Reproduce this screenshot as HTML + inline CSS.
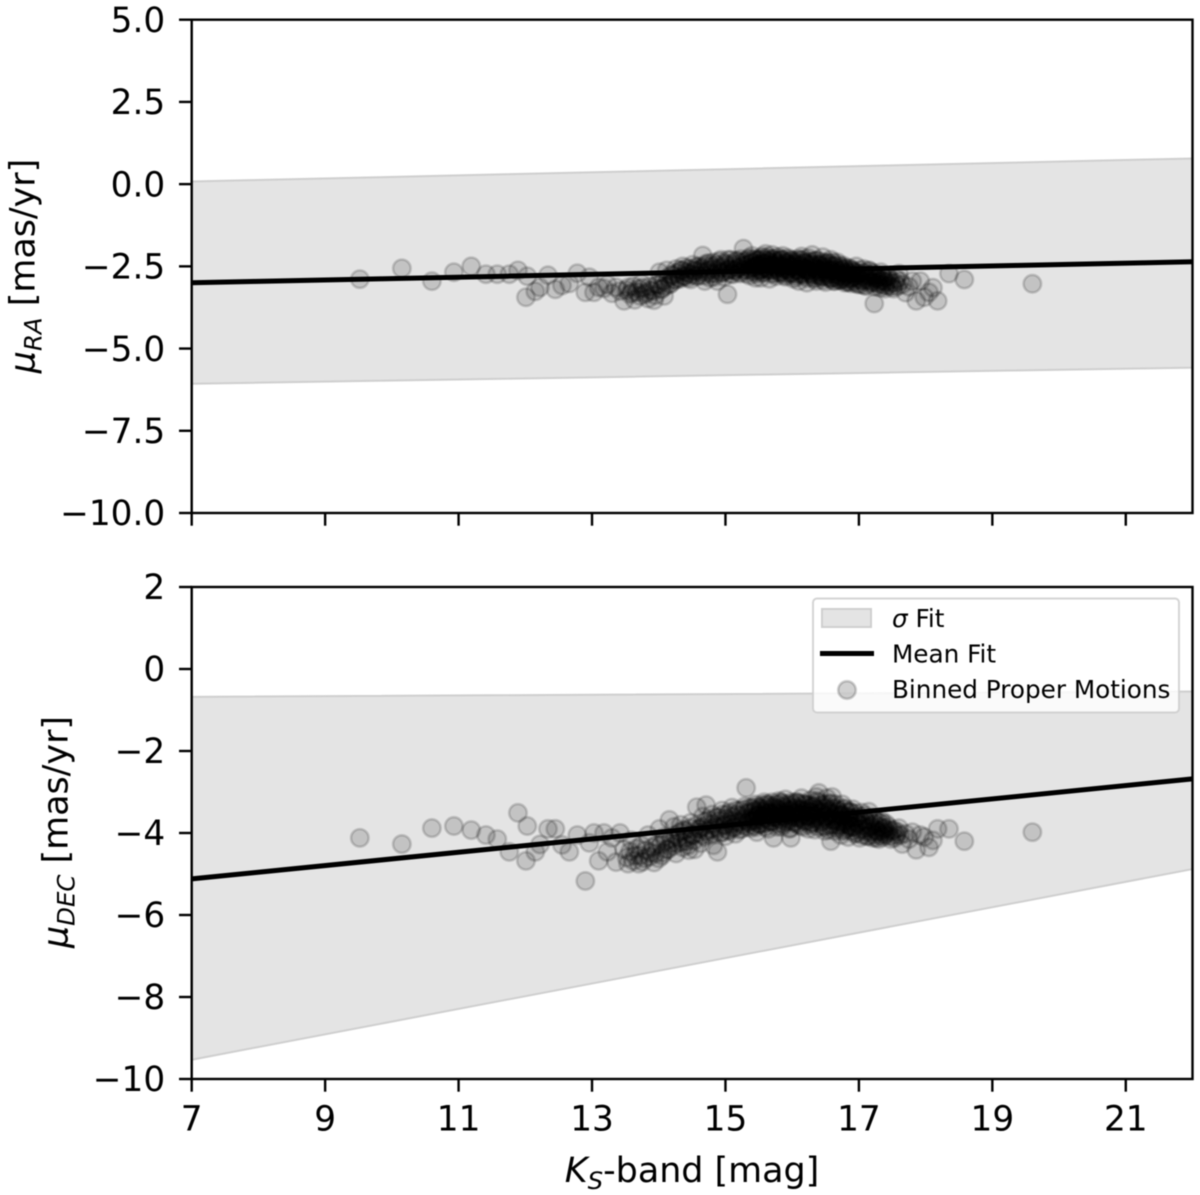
<!DOCTYPE html>
<html>
<head>
<meta charset="utf-8">
<title>Proper motion vs Ks-band</title>
<style>
html,body{margin:0;padding:0;background:#fff;width:1200px;height:1195px;overflow:hidden}
svg{display:block;filter:blur(0.55px)}
text{font-family:"DejaVu Sans","Liberation Sans",sans-serif;fill:#000}
.tick{font-size:34.3px}
.axis{font-size:34.9px}
.leg{font-size:24.7px}
</style>
</head>
<body>
<svg id="chart" xmlns="http://www.w3.org/2000/svg" width="1200" height="1195" viewBox="0 0 1200 1195">
<g id="top-marks"></g>
<g id="bottom-marks"></g>
<g id="frames"></g>
<text class="axis" x="692" y="1182" text-anchor="middle"><tspan font-style="italic">K</tspan><tspan font-style="italic" font-size="24.4" dy="7">S</tspan><tspan dy="-7">-band [mag]</tspan></text>
<text class="axis" transform="translate(34.5,266) rotate(-90)" text-anchor="middle"><tspan font-style="italic">μ</tspan><tspan font-style="italic" font-size="24.4" dy="7">RA</tspan><tspan dy="-7"> [mas/yr]</tspan></text>
<text class="axis" transform="translate(67.5,832) rotate(-90)" text-anchor="middle"><tspan font-style="italic">μ</tspan><tspan font-style="italic" font-size="24.4" dy="7">DEC</tspan><tspan dy="-7"> [mas/yr]</tspan></text>
<g>
<rect x="813" y="598.5" width="366" height="114" rx="4" ry="4" fill="#fff" fill-opacity="0.8" stroke="#ccc" stroke-opacity="0.85" stroke-width="2"/>
<rect x="822" y="609" width="49" height="18" fill="#e4e4e4" stroke="#cfcfcf" stroke-width="2"/>
<text class="leg" x="892" y="627"><tspan font-style="italic">σ</tspan> Fit</text>
<line x1="820" x2="874" y1="653.5" y2="653.5" stroke="#000" stroke-width="5"/>
<text class="leg" x="892" y="662.5">Mean Fit</text>
<circle cx="847" cy="690" r="8.8" fill="#000" fill-opacity="0.18" stroke="#000" stroke-opacity="0.18" stroke-width="2.6"/>
<text class="leg" x="892" y="698">Binned Proper Motions</text>
</g>
</svg>
<script>
const xTicks = [7, 9, 11, 13, 15, 17, 19, 21];
const xTickLabels = ['7', '9', '11', '13', '15', '17', '19', '21'];
const raTicks = [5, 2.5, 0, -2.5, -5, -7.5, -10];
const raTickLabels = ['5.0', '2.5', '0.0', '\u22122.5', '\u22125.0', '\u22127.5', '\u221210.0'];
const decTicks = [2, 0, -2, -4, -6, -8, -10];
const decTickLabels = ['2', '0', '\u22122', '\u22124', '\u22126', '\u22128', '\u221210'];

const fitKs = [7, 22];
const raMean = [-3.0, -2.36];
const raUpper = [0.08, 0.78];
const raLower = [-6.07, -5.58];
const decMean = [-5.12, -2.68];
const decUpper = [-0.68, -0.55];
const decLower = [-9.53, -4.88];

const ks = [
9.52,10.15,10.60,10.93,11.19,11.41,11.58,11.76,11.89,12.01,
12.03,12.15,12.22,12.34,12.45,12.55,12.66,12.78,12.90,12.96,
13.03,13.10,13.18,13.23,13.30,13.36,13.42,13.48,13.54,13.59,
13.64,13.70,13.74,13.79,13.84,13.88,13.93,13.97,14.01,14.05,
14.08,14.12,14.16,14.19,14.23,14.26,14.30,14.33,14.36,14.39,
14.42,14.45,14.48,14.51,14.54,14.57,14.60,14.63,14.66,14.69,
14.71,14.74,14.77,14.80,14.82,14.85,14.88,14.90,14.93,14.95,
14.98,15.00,15.03,15.05,15.08,15.10,15.12,15.15,15.17,15.20,
15.22,15.24,15.27,15.29,15.31,15.34,15.36,15.38,15.40,15.43,
15.45,15.47,15.49,15.51,15.53,15.55,15.58,15.60,15.62,15.64,
15.66,15.68,15.70,15.72,15.74,15.76,15.78,15.80,15.82,15.84,
15.86,15.88,15.90,15.92,15.94,15.96,15.98,16.00,16.02,16.04,
16.06,16.08,16.10,16.12,16.14,16.16,16.18,16.20,16.22,16.24,
16.26,16.28,16.30,16.32,16.34,16.36,16.38,16.40,16.42,16.44,
16.46,16.48,16.50,16.52,16.54,16.56,16.58,16.60,16.62,16.64,
16.66,16.68,16.70,16.73,16.75,16.77,16.79,16.82,16.84,16.86,
16.89,16.91,16.94,16.96,16.99,17.01,17.04,17.07,17.09,17.12,
17.15,17.18,17.21,17.23,17.27,17.30,17.33,17.37,17.40,17.44,
17.48,17.52,17.56,17.60,17.65,17.70,17.75,17.80,17.86,17.92,
17.98,18.05,18.11,18.18,18.35,18.58,19.60,
13.52,13.57,13.62,13.67,13.72,13.76,13.81,13.86,13.91,13.95,
14.00,14.03,14.07,14.10,14.14,14.18,14.21,14.25,14.28,14.32,
14.35,14.38,14.41,14.44,14.47,14.50,14.53,14.56,14.59,14.62,
14.65,14.67,14.70,14.72,14.75,14.78,14.81,14.83,14.86,14.89,
14.91,14.94,14.96,14.99,15.01,15.04,15.06,15.09,15.11,15.13,
15.16,15.18,15.21,15.23,15.25,15.28,15.30,15.32,15.33,15.35,
15.37,15.39,15.41,15.42,15.44,15.46,15.48,15.50,15.52,15.54,
15.56,15.57,15.59,15.61,15.63,15.65,15.67,15.69,15.71,15.73,
15.75,15.77,15.79,15.81,15.83,15.85,15.87,15.89,15.91,15.93,
15.95,15.97,15.99,16.01,16.03,16.05,16.07,16.09,16.11,16.13,
16.15,16.17,16.19,16.21,16.23,16.25,16.27,16.29,16.31,16.33,
16.35,16.37,16.39,16.41,16.43,16.45,16.47,16.49,16.51,16.53,
16.55,16.57,16.59,16.61,16.63,16.65,16.67,16.69,16.71,16.72,
16.74,16.76,16.78,16.80,16.81,16.83,16.85,16.87,16.88,16.90,
16.92,16.93,16.95,16.97,16.98,17.00,17.02,17.03,17.05,17.06,
17.08,17.10,17.11,17.13,17.14,17.16,17.17,17.19,17.20,17.22,
17.24,17.25,17.26,17.28,17.29,17.31,17.32,17.34,17.35,17.36,
17.38,17.39,17.41,17.42,17.45,17.47,17.50,17.54,17.58,17.62,
15.41,15.44,15.46,15.49,15.51,15.54,15.56,15.59,15.61,15.64,
15.67,15.69,15.72,15.74,15.77,15.79,15.82,15.84,15.87,15.89,
15.92,15.94,15.97,15.99,16.02,16.04,16.07,16.09,16.12,16.14,
16.17,16.19,16.22,16.24,16.27,16.29,16.32,16.34,16.37,16.39,
16.42,16.44,16.47,16.49,16.52,16.54,16.57,16.59,16.62,16.64,
16.67,16.69,16.72,16.74,16.77,16.79,16.82,16.84,16.87,16.89
];
const muRA = [
-2.89,-2.56,-2.95,-2.68,-2.50,-2.74,-2.74,-2.74,-2.62,-3.44,
-2.80,-3.26,-3.14,-2.77,-3.20,-3.08,-3.02,-2.71,-3.29,-2.83,
-3.29,-3.14,-3.17,-3.05,-3.32,-3.14,-3.25,-3.55,-3.14,-3.30,
-3.52,-3.18,-3.02,-3.35,-3.48,-3.22,-3.53,-3.05,-2.68,-3.18,
-3.40,-2.62,-3.05,-2.75,-2.90,-2.58,-2.85,-2.62,-2.50,-2.80,
-2.55,-2.72,-2.90,-2.45,-2.62,-2.80,-2.50,-2.68,-2.17,-2.95,
-2.42,-2.62,-2.85,-2.50,-2.38,-2.72,-2.95,-2.55,-2.30,-2.68,
-2.82,-2.45,-3.35,-2.60,-2.30,-2.75,-2.48,-2.62,-2.35,-2.55,
-2.72,-2.38,-1.96,-2.50,-2.62,-2.30,-2.78,-2.42,-2.18,-2.55,
-2.85,-2.30,-2.48,-2.62,-2.85,-2.20,-2.42,-2.12,-2.58,-2.30,
-2.88,-2.45,-2.15,-2.62,-2.35,-2.80,-2.22,-2.50,-2.70,-2.30,
-2.18,-2.60,-2.82,-2.40,-2.25,-2.52,-2.72,-2.32,-2.88,-2.45,
-2.60,-2.28,-2.95,-2.48,-2.20,-2.70,-2.38,-2.58,-3.00,-2.25,
-2.65,-2.42,-2.15,-2.78,-2.52,-2.95,-2.32,-2.68,-2.45,-2.82,
-2.22,-2.58,-2.98,-2.70,-2.40,-2.85,-2.30,-2.62,-2.95,-2.50,
-2.75,-2.38,-2.92,-2.60,-2.82,-2.48,-3.00,-2.70,-2.55,-2.88,
-3.02,-2.65,-2.78,-2.50,-3.05,-2.72,-2.92,-2.58,-3.08,-2.80,
-2.62,-2.95,-2.75,-3.63,-2.85,-3.05,-2.68,-2.95,-3.10,-2.80,
-3.00,-3.18,-2.88,-2.72,-3.05,-3.30,-3.12,-2.95,-3.55,-2.95,
-3.44,-3.29,-3.15,-3.55,-2.72,-2.90,-3.03,
-3.22,-3.35,-3.10,-3.28,-3.40,-3.15,-3.30,-3.12,-3.25,-3.38,
-3.05,-3.20,-2.95,-3.10,-2.85,-3.02,-2.78,-2.92,-2.70,-2.88,
-2.62,-2.80,-2.68,-2.85,-2.58,-2.75,-2.65,-2.52,-2.78,-2.60,
-2.55,-2.78,-2.48,-2.68,-2.40,-2.72,-2.58,-2.82,-2.45,-2.62,
-2.35,-2.70,-2.52,-2.40,-2.65,-2.30,-2.58,-2.72,-2.42,-2.62,
-2.32,-2.55,-2.68,-2.28,-2.48,-2.60,-2.35,-2.72,-2.45,-2.25,
-2.58,-2.38,-2.65,-2.28,-2.50,-2.72,-2.32,-2.45,-2.60,-2.25,
-2.40,-2.68,-2.30,-2.52,-2.22,-2.60,-2.38,-2.72,-2.28,-2.50,
-2.42,-2.58,-2.32,-2.65,-2.48,-2.28,-2.55,-2.72,-2.38,-2.60,
-2.45,-2.30,-2.68,-2.52,-2.40,-2.75,-2.35,-2.62,-2.48,-2.72,
-2.30,-2.58,-2.78,-2.42,-2.62,-2.35,-2.72,-2.55,-2.45,-2.85,
-2.32,-2.60,-2.75,-2.48,-2.68,-2.38,-2.82,-2.55,-2.42,-2.78,
-2.62,-2.48,-2.88,-2.38,-2.72,-2.58,-2.85,-2.45,-2.68,-2.92,
-2.62,-2.85,-2.55,-2.78,-2.92,-2.65,-2.98,-2.72,-2.58,-2.85,
-2.95,-2.68,-2.82,-3.02,-2.72,-2.88,-2.62,-3.05,-2.80,-2.95,
-2.70,-2.88,-3.10,-2.75,-2.92,-2.65,-3.02,-2.82,-2.98,-2.70,
-3.12,-2.88,-2.78,-3.00,-2.85,-2.95,-3.15,-2.78,-2.92,-3.05,
-2.85,-3.18,-2.98,-2.82,-3.08,-2.92,-3.12,-3.00,-3.10,-2.95,
-2.52,-2.38,-2.65,-2.45,-2.30,-2.58,-2.70,-2.42,-2.55,-2.35,
-2.62,-2.48,-2.28,-2.72,-2.55,-2.40,-2.68,-2.32,-2.52,-2.78,
-2.45,-2.60,-2.35,-2.70,-2.50,-2.82,-2.42,-2.62,-2.30,-2.75,
-2.55,-2.40,-2.85,-2.62,-2.48,-2.72,-2.35,-2.88,-2.58,-2.45,
-2.78,-2.62,-2.92,-2.50,-2.38,-2.72,-2.60,-2.85,-2.48,-2.95,
-2.65,-2.78,-2.52,-2.90,-2.70,-2.58,-2.98,-2.75,-2.85,-2.62
];
const muDEC = [
-4.12,-4.27,-3.88,-3.83,-3.93,-4.05,-4.15,-4.46,-3.51,-4.68,
-3.83,-4.46,-4.28,-3.90,-3.90,-4.29,-4.46,-4.05,-5.17,-4.24,
-4.00,-4.68,-4.00,-4.46,-4.12,-4.71,-4.00,-4.40,-4.75,-4.18,
-4.55,-4.75,-4.30,-4.62,-4.05,-4.48,-4.72,-4.28,-3.90,-4.55,
-4.10,-4.40,-3.68,-4.25,-3.85,-4.50,-4.12,-3.80,-4.35,-3.95,
-4.20,-4.42,-3.75,-4.05,-4.40,-3.37,-3.90,-4.25,-3.60,-4.10,
-3.32,-3.78,-4.05,-3.55,-4.30,-3.85,-4.46,-3.62,-4.00,-3.45,
-3.80,-4.08,-3.55,-3.95,-3.70,-3.38,-3.88,-4.02,-3.55,-3.75,
-3.45,-3.90,-3.65,-3.35,-2.90,-3.72,-3.50,-3.88,-3.40,-3.65,
-3.30,-3.98,-3.58,-3.78,-3.40,-3.60,-3.25,-3.85,-3.50,-3.35,
-3.70,-3.55,-3.25,-4.12,-3.62,-3.40,-3.78,-3.22,-3.52,-3.85,
-3.35,-3.60,-3.18,-3.72,-3.45,-3.90,-4.12,-3.30,-3.62,-3.50,
-3.25,-3.78,-3.42,-3.60,-3.15,-3.85,-3.48,-3.30,-3.70,-3.58,
-3.40,-3.20,-3.75,-3.55,-3.92,-3.12,-3.45,-3.02,-3.68,-3.50,
-3.82,-3.30,-3.58,-3.15,-3.92,-3.45,-4.20,-3.12,-3.68,-3.95,
-3.40,-3.80,-3.55,-4.05,-3.30,-3.72,-3.92,-3.48,-4.10,-3.65,
-3.85,-3.42,-4.02,-3.62,-3.78,-4.12,-3.50,-3.90,-3.68,-4.08,
-3.48,-3.82,-4.12,-3.65,-3.95,-4.15,-3.75,-3.90,-4.05,-3.85,
-4.15,-3.92,-4.05,-3.88,-4.27,-4.02,-4.15,-3.98,-4.41,-4.05,
-4.10,-4.35,-4.18,-3.90,-3.90,-4.20,-3.98,
-4.60,-4.45,-4.68,-4.38,-4.55,-4.70,-4.42,-4.58,-4.35,-4.50,
-4.62,-4.28,-4.48,-4.20,-4.40,-4.15,-4.32,-4.05,-4.25,-3.98,
-4.22,-3.92,-4.12,-4.30,-3.88,-4.05,-4.18,-3.82,-4.00,-3.90,
-3.85,-4.05,-3.72,-3.95,-3.68,-3.90,-3.78,-4.02,-3.62,-3.88,
-3.70,-3.98,-3.55,-3.82,-3.65,-3.92,-3.50,-3.78,-3.60,-3.85,
-3.45,-3.72,-3.92,-3.58,-3.80,-3.42,-3.68,-3.85,-3.52,-3.75,
-3.38,-3.62,-3.82,-3.48,-3.70,-3.35,-3.58,-3.78,-3.45,-3.68,
-3.32,-3.55,-3.75,-3.42,-3.65,-3.30,-3.52,-3.72,-3.40,-3.60,
-3.50,-3.30,-3.65,-3.45,-3.25,-3.58,-3.72,-3.40,-3.55,-3.30,
-3.68,-3.45,-3.25,-3.58,-3.75,-3.38,-3.52,-3.28,-3.65,-3.42,
-3.55,-3.28,-3.72,-3.45,-3.60,-3.32,-3.80,-3.50,-3.35,-3.65,
-3.42,-3.58,-3.25,-3.75,-3.48,-3.32,-3.62,-3.85,-3.40,-3.68,
-3.28,-3.52,-3.78,-3.40,-3.60,-3.30,-3.72,-3.48,-3.82,-3.58,
-3.55,-3.78,-3.42,-3.68,-3.88,-3.60,-3.82,-3.48,-3.72,-3.95,
-3.65,-3.85,-3.52,-4.00,-3.75,-3.60,-3.92,-3.70,-4.05,-3.82,
-3.58,-3.95,-3.72,-3.88,-4.08,-3.68,-3.85,-3.98,-3.62,-4.05,
-3.78,-3.92,-4.12,-3.72,-3.98,-3.85,-4.05,-3.70,-3.95,-4.10,
-3.88,-4.02,-3.78,-3.98,-3.92,-4.08,-3.95,-4.12,-3.98,-4.05,
-3.70,-3.45,-3.85,-3.55,-3.38,-3.78,-3.48,-3.62,-3.30,-3.90,
-3.50,-3.72,-3.35,-3.60,-3.85,-3.42,-3.68,-3.28,-3.78,-3.50,
-3.65,-3.35,-3.88,-3.55,-3.42,-3.72,-3.25,-3.62,-3.82,-3.45,
-3.68,-3.32,-3.58,-3.90,-3.48,-3.75,-3.35,-3.62,-3.22,-3.85,
-3.52,-3.72,-3.38,-3.95,-3.60,-3.48,-3.82,-3.28,-3.68,-3.55,
-3.88,-3.45,-3.72,-3.58,-3.95,-3.40,-3.78,-3.62,-3.50,-3.85
];

const SVGNS = 'http://www.w3.org/2000/svg';
const plotLeft = 191.7, plotRight = 1192.5;
function xScale(v) { return plotLeft + (v - 7) * (plotRight - plotLeft) / 15; }
function makeY(vTop, vBottom, pTop, pBottom) {
  return function (v) { return pTop + (vTop - v) * (pBottom - pTop) / (vTop - vBottom); };
}
const yRA = makeY(5, -10, 19.7, 513);
const yDEC = makeY(2, -10, 587, 1079);

function mk(parent, tag, attrs) {
  const el = document.createElementNS(SVGNS, tag);
  for (const k in attrs) el.setAttribute(k, attrs[k]);
  parent.appendChild(el);
  return el;
}

function drawSeries(group, yScale, upper, lower, mean, values, prefix) {
  const band = mk(group, 'polygon', {
    points: [
      [xScale(fitKs[0]), yScale(upper[0])],
      [xScale(fitKs[1]), yScale(upper[1])],
      [xScale(fitKs[1]), yScale(lower[1])],
      [xScale(fitKs[0]), yScale(lower[0])]
    ].map(p => p.join(',')).join(' '),
    fill: '#e4e4e4', stroke: '#cfcfcf', 'stroke-width': 2
  });
  
  
  const pts = mk(group, 'g', {});
  
  
  ks.forEach(function (k, i) {
    const c = mk(pts, 'circle', {
      cx: xScale(k), cy: yScale(values[i]), r: 8.8,
      fill: '#000', 'fill-opacity': 0.14,
      stroke: '#000', 'stroke-opacity': 0.16, 'stroke-width': 2.6
    });
    
    
  });
  const line = mk(group, 'line', {
    x1: xScale(fitKs[0]), y1: yScale(mean[0]),
    x2: xScale(fitKs[1]), y2: yScale(mean[1]),
    stroke: '#000', 'stroke-width': 5
  });
  
  
}

drawSeries(document.getElementById('top-marks'), yRA, raUpper, raLower, raMean, muRA, 'ra');
drawSeries(document.getElementById('bottom-marks'), yDEC, decUpper, decLower, decMean, muDEC, 'dec');

function drawFrame(yScale, yTicks, yLabels, pTop, pBottom, showX, prefix) {
  const g = document.getElementById('frames');
  const frame = mk(g, 'rect', {
    x: plotLeft, y: pTop, width: plotRight - plotLeft, height: pBottom - pTop,
    fill: 'none', stroke: '#000', 'stroke-width': 2.4
  });
  
  
  yTicks.forEach(function (t, i) {
    const y = yScale(t);
    const tk = mk(g, 'line', { x1: plotLeft - 12.7, x2: plotLeft, y1: y, y2: y, stroke: '#000', 'stroke-width': 2.4 });
    
    
    const lb = mk(g, 'text', { x: plotLeft - 26.5, y: y + 12.2, 'text-anchor': 'end', 'class': 'tick' });
    
    
    lb.textContent = yLabels[i];
  });
  xTicks.forEach(function (t, i) {
    const x = xScale(t);
    const tk = mk(g, 'line', { x1: x, x2: x, y1: pBottom, y2: pBottom + 12.7, stroke: '#000', 'stroke-width': 2.4 });
    
    
    if (showX) {
      const lb = mk(g, 'text', { x: x, y: pBottom + 51.5, 'text-anchor': 'middle', 'class': 'tick' });
      
      
      lb.textContent = xTickLabels[i];
    }
  });
}
drawFrame(yRA, raTicks, raTickLabels, 19.7, 513, false, 'ra');
drawFrame(yDEC, decTicks, decTickLabels, 587, 1079, true, 'dec');
</script>
</body>
</html>
